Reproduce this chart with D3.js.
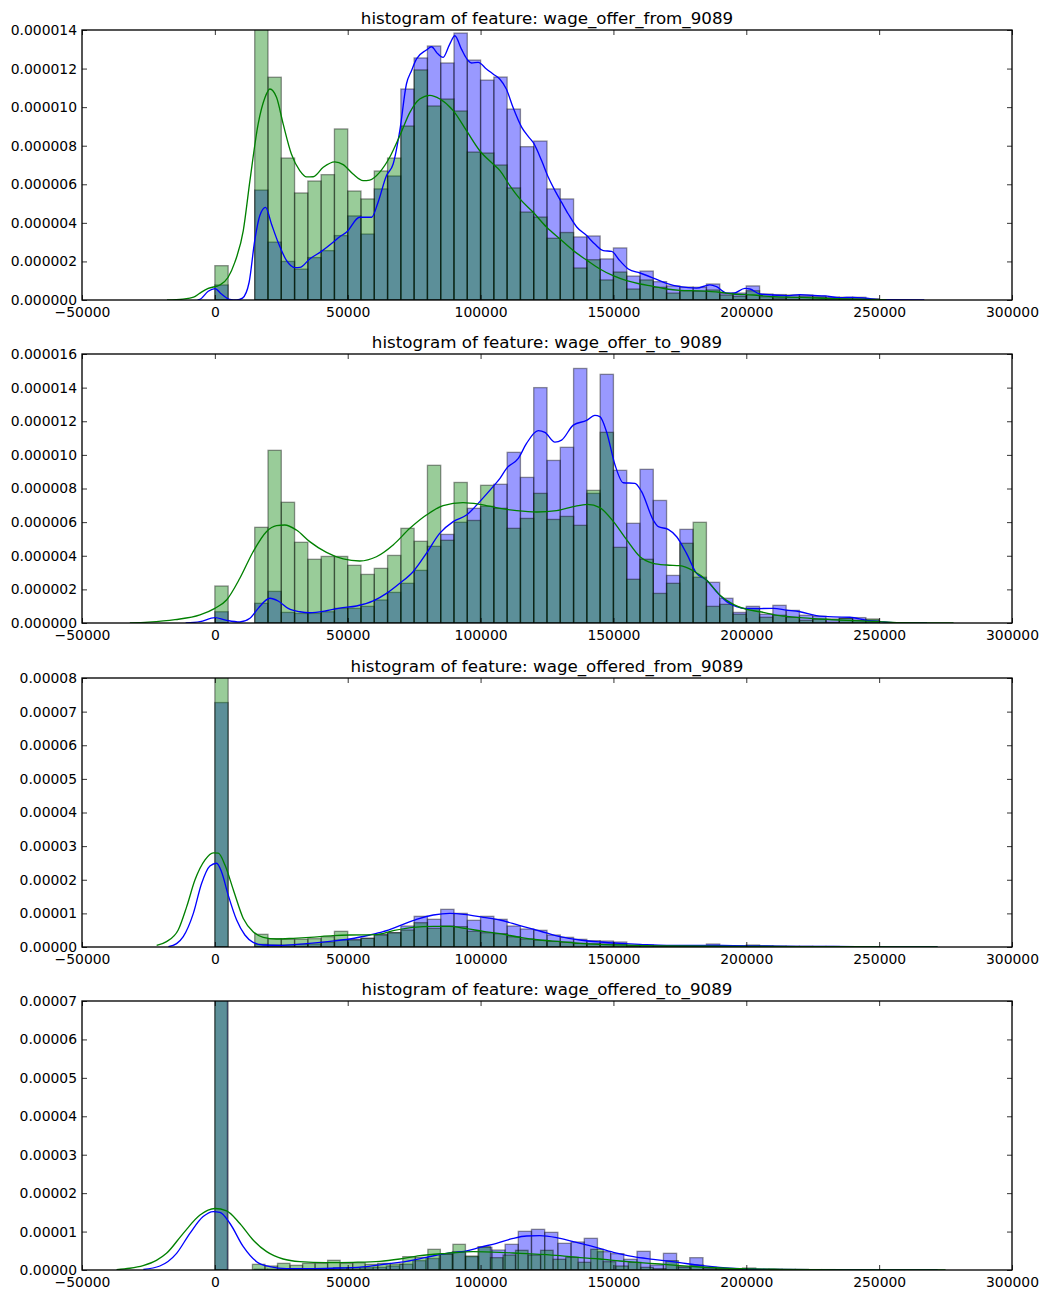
<!DOCTYPE html>
<html>
<head>
<meta charset="utf-8">
<script src="https://cdn.jsdelivr.net/npm/d3@7"></script>
<style>
  body { margin: 0; background: #fff; }
  text { font-family: "DejaVu Sans", sans-serif; fill: #000; }
</style>
</head>
<body>
<div id="chart"></div>
<script>
// Bar heights are in units of 1e-6, one per bin. KDE points are [x in thousands, y in 1e-6].
const titles = ['wage_offer_from_9089', 'wage_offer_to_9089', 'wage_offered_from_9089', 'wage_offered_to_9089'];
const xTicks = [-50000, 0, 50000, 100000, 150000, 200000, 250000, 300000];

const blueBars1 = [.78,0,0,5.7,3.0,2.0,1.6,2.2,2.56,3.34,4.36,3.42,5.76,6.43,10.94,12.55,13.17,12.29,13.84,12.44,11.4,11.56,9.9,7.95,8.24,5.76,5.24,3.27,3.32,2.13,2.7,1.24,1.5,.95,.73,.67,.66,.83,.36,.36,.73,.31,.28,.26,.26,.2,.15,.14,.14,.05];
const greenBars1 = [1.78,0,0,14.6,11.55,7.36,5.55,6.17,6.5,8.87,5.65,5.24,6.69,7.36,9.02,11.93,10.06,10.42,9.8,7.67,7.62,7.0,5.81,4.56,4.3,3.2,3.5,1.66,2.09,1.04,1.45,.57,1.04,.66,.36,.48,.45,.52,.26,.19,.48,.17,.1,.14,.17,.14,.09,.08,.07,.05];
const blueBars2 = [.67,0,0,1.17,1.88,.63,.57,.57,.67,.87,.87,.99,1.37,1.82,2.36,3.13,4.56,5.27,5.99,6.82,6.94,8.25,10.15,8.66,14.0,9.67,10.45,15.14,7.71,14.79,9.08,5.93,9.14,7.29,2.83,5.57,2.72,2.42,1.47,.63,.99,.52,1.05,.75,.46,.4,.24,.28,.32,.18];
const greenBars2 = [2.2,0,0,5.69,10.27,7.18,4.8,3.79,3.96,3.96,3.43,2.89,3.25,4.02,5.63,4.86,9.38,4.92,8.36,6.1,8.19,6.82,5.63,6.22,7.71,6.16,6.34,5.81,7.89,11.34,4.5,2.6,3.79,1.76,2.36,4.74,5.99,.99,1.11,.52,.87,.34,.46,.34,.16,.22,.04,.28,.16,.24];
const blueBars3 = [72.7,0,0,.8,.6,.6,.8,.9,1.39,2.08,2.28,2.58,3.77,4.26,6.24,9.12,8.23,11.2,10,7.93,9.12,8.23,6.24,5.35,4.96,3.57,2.87,2.28,1.88,1.78,1.49,.5,.5,.4,.4,.4,.3,.89,.4,.3,.59,.3,.25,.2,.2,.15,.15,.1,.1,.05];
const greenBars3 = [84,0,0,3.77,2.48,2.28,2.28,2.48,3.07,4.66,2.08,2.58,3.57,4.26,5.05,7.23,5.55,6.24,6.05,4.66,4.26,3.97,3.07,2.38,1.98,1.68,1.39,1.09,.99,.89,.79,.4,.5,.4,.3,.3,.3,.3,.2,.2,.3,.2,.1,.1,.1,.1,.05,.05,.05,.05];
const blueBars4 = [72,0,0,.2,.2,.2,.2,.2,.3,.6,.6,.6,.7,1.04,1.5,2.43,3.0,4.16,4.77,3.47,5.9,5.2,6.68,10.06,10.58,9.8,6.94,7.29,8.24,4.77,4.25,2.78,4.86,1.3,4.34,.87,3.21,.69,.35,.35,.52,.2,.2,.15,.15,.1,.1,.05,.05,.05];
const greenBars4 = [74,0,0,1.47,1.04,1.73,1.21,1.73,1.73,2.52,1.73,1.91,1.47,1.73,1.56,3.47,3.3,5.38,4.16,6.68,3.64,6.07,3.21,3.9,5.12,3.9,5.12,2.78,3.3,2.0,5.38,2.17,1.04,2.0,.69,.35,2.43,.69,1.3,.35,.35,.26,.26,.1,.1,.1,.05,.05,.05,.05];

const blueKde1 = [[-6.5,0],[-5.6,.03],[-2.5,.45],[0,.59],[2.5,.31],[5.6,.03],[8.2,0],[10.4,.1],[12.9,.92],[15,3.08],[16.9,4.37],[19.1,4.8],[21.3,3.94],[23.8,2.99],[27,2.04],[30.1,1.68],[32,1.69],[35.7,2.13],[40.1,2.52],[44.5,2.99],[47,3.28],[49.5,3.51],[54.5,4.29],[59,4.29],[61.4,5.06],[64.6,6.45],[67.1,7.05],[69.6,8.78],[72.1,11.2],[74,11.89],[75.9,12.5],[79.6,12.96],[81.5,13.13],[84,12.75],[85.9,12.58],[88.4,13.27],[90.3,13.7],[92.8,13.01],[94.7,12.53],[96.6,12.29],[99.1,12.32],[102.2,11.98],[104.7,11.72],[107.2,11.46],[109.7,10.94],[112.2,9.99],[115.5,8.95],[118,8.47],[119.8,8.17],[123,7.22],[125.5,6.36],[128,5.67],[130.5,5.06],[133,4.46],[136.1,3.8],[139.9,3.34],[143,2.9],[146.2,2.56],[149.3,2.52],[152.4,2.04],[155.6,1.61],[160,1.4],[165,1.14],[170,.86],[175,.69],[181.3,.62],[186.3,.78],[188.8,.69],[192.6,.36],[195.1,.35],[199.5,.6],[201.4,.57],[205.1,.31],[210.1,.26],[215.1,.22],[220.2,.28],[225.2,.24],[229.6,.21],[235.2,.12],[240.2,.14],[245.2,.09],[250.3,.02],[267,0]];
const greenKde1 = [[-18,0],[-12,.05],[-8,.15],[-5.6,.36],[-2.5,.6],[1.9,.78],[5,1.18],[7.5,1.95],[10.7,3.6],[13.2,6.19],[16.3,9.13],[18.8,10.47],[20.7,10.94],[23.2,10.51],[25.7,9.13],[28.8,7.57],[32,6.7],[34.5,6.38],[37,6.39],[40.8,6.88],[45.1,7.16],[48.3,7.02],[52,6.53],[55.8,6.19],[58.3,6.22],[62,6.62],[65.8,7.4],[69.6,8.52],[73.4,9.73],[77.1,10.42],[80.9,10.61],[84.7,10.42],[89.7,9.82],[94.7,8.78],[99.7,7.74],[104.7,7.05],[107.3,6.71],[111,5.93],[114.8,5.24],[119.8,4.55],[124.9,3.77],[129.9,3.16],[134.9,2.56],[139.9,2.07],[144.9,1.61],[149.9,1.26],[155,1.0],[160,.83],[165,.71],[170,.57],[175,.5],[182.5,.47],[190,.4],[195,.31],[202.6,.26],[210.1,.17],[220.2,.14],[232.7,.07],[245.2,.03],[252.8,0]];

const blueKde2 = [[-11,0],[-5.6,.08],[0,.32],[4.4,.16],[9.4,.06],[13.2,.28],[16.3,.87],[20.7,1.47],[23.8,1.31],[27.6,.87],[32,.67],[35.7,.61],[42,.73],[47,.89],[53.3,1.01],[59.6,1.31],[64.6,1.76],[69.6,2.36],[74.6,3.05],[79.6,4.14],[84.6,5.33],[89.7,6.03],[94.7,6.42],[99.7,7.22],[104.7,8.11],[107.3,8.6],[109.8,9.2],[114.2,9.79],[117.3,10.68],[121.7,11.44],[124.2,11.34],[128,10.76],[130.5,10.88],[134.9,11.77],[139.9,12.05],[143,12.35],[144.9,12.27],[147.4,11.38],[150.6,9.4],[153.7,8.34],[158.1,8.31],[160.6,7.81],[165,6.12],[166.9,5.73],[170.6,5.57],[173.8,5.13],[177.5,4.14],[181.3,2.95],[185,2.56],[188.8,1.86],[192.6,1.27],[196.3,.97],[200.1,.85],[210.1,.87],[215.1,.77],[220.2,.67],[226.4,.44],[232.7,.36],[239,.34],[245.2,.16],[250.3,.08],[257.8,0],[268,0]];
const greenKde2 = [[-32,0],[-25,.05],[-15,.2],[-5.6,.48],[0,.87],[4.4,1.37],[9.4,2.66],[14.4,4.24],[19.4,5.43],[23.2,5.79],[26.3,5.83],[30.7,5.53],[35.7,4.84],[42,4.2],[48.3,3.81],[54.5,3.69],[60.8,3.94],[67.1,4.64],[73.4,5.63],[79.6,6.42],[85.9,6.98],[93.4,7.16],[99.7,7.06],[107.3,6.82],[113.6,6.68],[121.1,6.6],[128.6,6.68],[134.9,6.92],[140.2,7.06],[144.9,6.86],[150,6.03],[155,4.94],[160,3.94],[165,3.55],[170,3.45],[175,3.41],[180,3.11],[185,2.56],[190,1.67],[195.1,1.11],[200.1,.81],[205.1,.67],[212.6,.44],[220.2,.32],[227.7,.24],[237.7,.16],[247.7,.1],[257.8,.02],[278,0]];

const blueKde3 = [[-17.5,.1],[-14.4,1],[-11.9,3.07],[-8.1,10],[-5,18.9],[-1.86,24.1],[.65,24.9],[2.5,22.4],[5,15.5],[8.2,8],[11.3,3.57],[14.4,1.39],[18.2,.6],[25.7,.5],[34.5,1],[43.3,1.68],[50.8,2.38],[58.3,3.57],[63.3,4.56],[69.6,6.34],[75.9,8.23],[82.2,9.51],[88.4,10],[94.7,9.61],[101,8.82],[107.3,8.03],[114.8,6.34],[122.3,4.76],[129.9,3.07],[137.4,2.08],[144.9,1.49],[152.4,1.09],[160,.79],[170,.5],[182.5,.5],[195.1,.4],[207.6,.3],[220.2,.2],[232.7,.15],[257.8,0],[272,0]];
const greenKde3 = [[-21.9,.5],[-18.2,1.6],[-13.8,5.05],[-10.6,12],[-7.5,19.9],[-3.7,25.9],[-.6,28],[1.3,27.9],[3.8,24.4],[7,16.9],[10.7,8.5],[14.4,4.56],[18.2,2.87],[23.2,2.38],[29.5,2.58],[35.8,2.87],[44.5,3.37],[50.8,3.57],[60.8,3.67],[67.1,4.86],[74.6,5.85],[82.2,6.14],[88.4,6.14],[94.7,5.45],[101,4.66],[107.3,3.97],[114.8,2.87],[122.3,2.08],[129.9,1.59],[137.4,1.09],[144.9,.79],[157.5,.5],[170,.3],[195,.2],[220,.1],[257.8,.05],[272,0]];

const blueKde4 = [[-26.9,.17],[-20.7,1.04],[-14.4,4.34],[-9.4,9.54],[-4.4,13.9],[-.6,15.2],[1.9,15],[5.7,12.1],[10.7,6.07],[15.7,2.17],[20.7,.87],[27,.35],[37,.35],[47,.52],[57,.87],[64.6,1.56],[72.1,2.25],[79.6,3.3],[87.2,4.34],[94.7,4.94],[99.8,5.9],[106,6.94],[112.3,8.24],[117.3,8.85],[122.3,8.93],[128.6,8.41],[134.9,7.37],[142.4,6.07],[150,4.6],[157.5,3.47],[165,2.78],[175,1.91],[182.5,1.21],[190,.69],[197.6,.35],[207.6,.17],[225,.09],[250,.03],[272,0]];
const greenKde4 = [[-37,.1],[-32,.45],[-27,1.15],[-22,2.5],[-18.2,4.34],[-11.9,9.54],[-5.6,14.3],[0,16],[4.4,15.4],[9.4,12.1],[14.4,7.8],[19.5,4.77],[25.7,2.86],[32,2.17],[42,1.91],[52,2],[62.1,2.25],[69.6,2.86],[77.1,3.73],[87.2,4.34],[97.2,4.77],[107.3,4.6],[114.8,4.34],[122.3,4.08],[129.9,3.73],[137.4,3.21],[144.9,2.86],[152.4,2.34],[160,1.91],[167.5,1.56],[175,1.13],[182.5,.78],[190,.52],[197.6,.35],[212.6,.17],[237.7,.04],[275,0]];

const yMaxes = [14, 16, 80, 70];
const yStepList = [2, 2, 10, 10];
const yDecimals = [6, 6, 5, 5];
const blueBins = [5000, 5000, 5000, 4965];
const greenBins = [5000, 5000, 5000, 4715];
const panelTops = [30, 354, 678, 1001];
const panelBottoms = [300, 623, 947, 1270];

const blueBarSets = [blueBars1, blueBars2, blueBars3, blueBars4];
const greenBarSets = [greenBars1, greenBars2, greenBars3, greenBars4];
const blueKdes = [blueKde1, blueKde2, blueKde3, blueKde4];
const greenKdes = [greenKde1, greenKde2, greenKde3, greenKde4];

const width = 1048, height = 1300;
const left = 82, right = 1012;
const blue = '#0000ff', green = '#008000';

const svg = d3.select('#chart').append('svg')
  .attr('width', width)
  .attr('height', height)
  .style('display', 'block');

const x = d3.scaleLinear().domain([-50000, 300000]).range([left, right]);

function fmtX(d) {
  return d < 0 ? '\u2212' + Math.abs(d) : String(d);
}

titles.forEach((title, i) => {
  const top = panelTops[i], bottom = panelBottoms[i];
  const y = d3.scaleLinear().domain([0, yMaxes[i]]).range([bottom, top]);
  const yTicks = d3.range(0, yMaxes[i] + 0.001, yStepList[i]);
  const g = svg.append('g');

  const clipId = 'clip' + i;
  g.append('clipPath').attr('id', clipId)
    .append('rect')
    .attr('x', left).attr('y', top)
    .attr('width', right - left).attr('height', bottom - top);

  const plot = g.append('g').attr('clip-path', `url(#${clipId})`);

  function drawBars(values, binWidth, color) {
    plot.append('g').selectAll('rect')
      .data(values.map((v, k) => ({ k, v })).filter(d => d.v > 0))
      .enter()
      .append('rect')
      .attr('x', d => x(d.k * binWidth))
      .attr('width', d => x((d.k + 1) * binWidth) - x(d.k * binWidth))
      .attr('y', d => y(d.v))
      .attr('height', d => bottom - y(d.v))
      .attr('fill', color)
      .attr('fill-opacity', 0.4)
      .attr('stroke', '#000')
      .attr('stroke-opacity', 0.4)
      .attr('stroke-width', 1.33);
  }
  drawBars(blueBarSets[i], blueBins[i], blue);
  drawBars(greenBarSets[i], greenBins[i], green);

  const line = d3.line()
    .x(d => x(d[0] * 1000))
    .y(d => y(d[1]))
    .curve(d3.curveMonotoneX);

  plot.append('path').datum(blueKdes[i])
    .attr('d', line).attr('fill', 'none').attr('stroke', blue).attr('stroke-width', 1.33);
  plot.append('path').datum(greenKdes[i])
    .attr('d', line).attr('fill', 'none').attr('stroke', green).attr('stroke-width', 1.33);

  // Ticks point inward on all four sides, only bottom and left have labels
  const axes = [
    d3.axisBottom(x).tickValues(xTicks).tickSize(-5).tickPadding(7).tickFormat(fmtX),
    d3.axisTop(x).tickValues(xTicks).tickSize(-5).tickFormat(''),
    d3.axisLeft(y).tickValues(yTicks).tickSize(-5).tickPadding(5).tickFormat(d => (d * 1e-6).toFixed(yDecimals[i])),
    d3.axisRight(y).tickValues(yTicks).tickSize(-5).tickFormat('')
  ];
  const offsets = [[0, bottom], [0, top], [left, 0], [right, 0]];
  axes.forEach((axis, a) => {
    const ag = g.append('g')
      .attr('transform', `translate(${offsets[a][0]},${offsets[a][1]})`)
      .call(axis);
    ag.selectAll('text').style('font-size', '13.9px').style('font-family', '"DejaVu Sans", sans-serif');
    ag.selectAll('line').attr('stroke-width', 0.8);
    ag.select('.domain').remove();
  });

  g.append('rect')
    .attr('x', left).attr('y', top)
    .attr('width', right - left).attr('height', bottom - top)
    .attr('fill', 'none')
    .attr('stroke', '#000')
    .attr('stroke-width', 1.33);

  g.append('text')
    .attr('x', (left + right) / 2)
    .attr('y', top - 6)
    .attr('text-anchor', 'middle')
    .style('font-size', '16.7px')
    .text('histogram of feature: ' + title);
});
</script>
</body>
</html>
